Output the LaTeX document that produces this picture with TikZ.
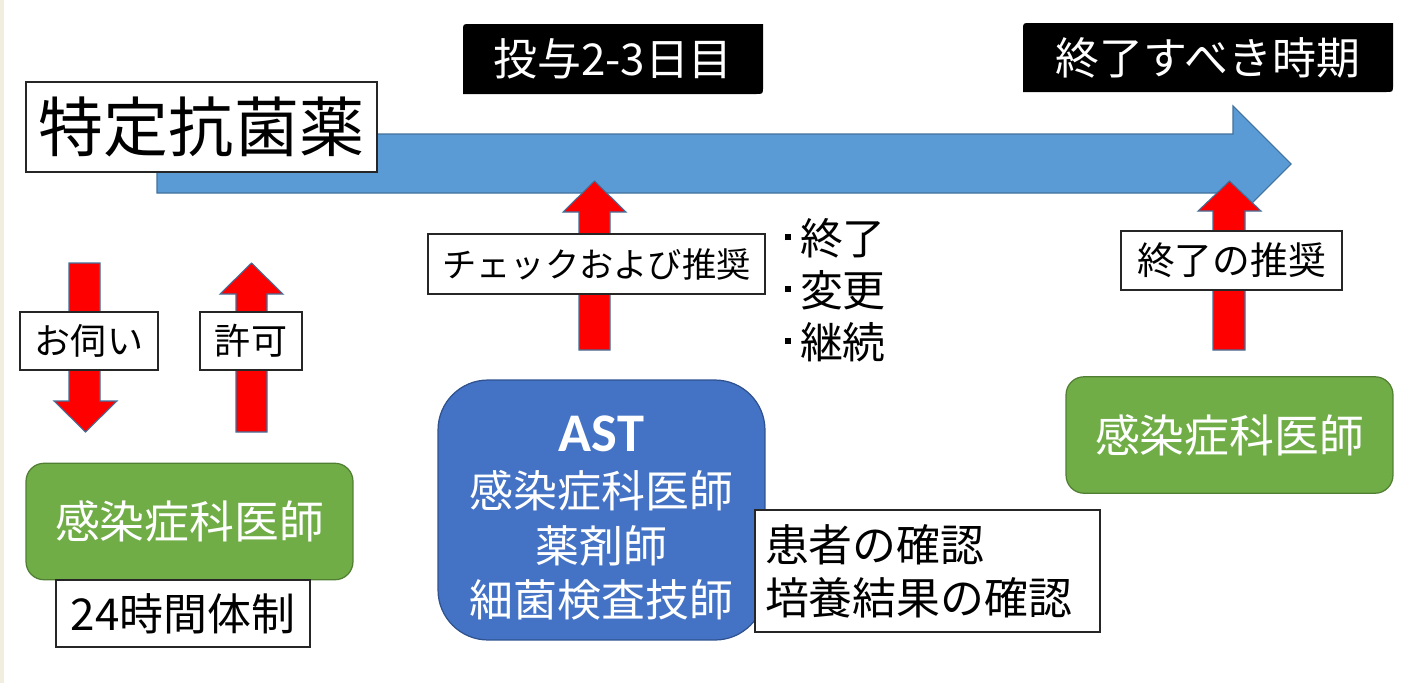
\documentclass[tikz,border=0pt]{standalone}
\usepackage{fontspec}
\setmainfont{Noto Sans CJK JP}
\newfontfamily\astfont{Carlito}
\definecolor{arrowblue}{HTML}{5B9BD5}
\definecolor{arrowedge}{HTML}{41719C}
\definecolor{grn}{HTML}{70AD47}
\definecolor{grnedge}{HTML}{507E32}
\definecolor{astblue}{HTML}{4472C4}
\definecolor{astedge}{HTML}{2F528F}
\definecolor{strip}{HTML}{F2EEDF}
\newcommand\fsz[2]{\fontsize{#1pt}{#2pt}\selectfont}
\newcommand\sqbul{\raisebox{8pt}{\rule{3.4pt}{3.4pt}}\hspace{5pt}}
\tikzset{
  px/.style={x=0.02cm,y=-0.02cm},
  bigarrow/.style={fill=arrowblue,draw=arrowedge,line width=0.6pt},
  redarrow/.style={fill=red,draw=arrowedge,line width=0.6pt},
  blackbg/.style={fill=black},
  blacktext/.style={text=white,font=\fsz{25}{30},inner sep=0pt},
  labelbox/.style={draw=black!85,line width=0.9pt,fill=white,inner sep=0pt},
  greenbox/.style={fill=grn,draw=grnedge,line width=0.7pt,rounded corners=0.36cm,
    text=white,font=\fsz{25.5}{30},inner sep=0pt,minimum width=6.54cm,minimum height=2.33cm},
  astbox/.style={fill=astblue,draw=astedge,line width=0.7pt,rounded corners=1cm,
    inner sep=0pt,minimum width=6.54cm,minimum height=5.2cm},
  asttext/.style={text=white,font=\fsz{25}{31},align=center,inner sep=0pt},
}
\begin{document}
\begin{tikzpicture}[px]
\useasboundingbox (0,0) rectangle (1412,683);
\fill[white] (0,0) rectangle (1412,683);
\fill[strip] (0,0) rectangle (4,683);

% main timeline arrow
\draw[bigarrow] (157,134) -- (1233,134) -- (1233,106) -- (1291,164) -- (1233,222) -- (1233,193) -- (157,193) -- cycle;

% title
\node[labelbox,font=\fsz{37}{40},minimum width=7.02cm,minimum height=1.8cm] (title) at (201.5,127) {特定抗菌薬};

% black headers
\fill[blackbg] (463,94) -- (463,31) .. controls (463,24) .. (470,24) -- (763,24) -- (763,87) .. controls (763,94) .. (756,94) -- cycle;
\node[blacktext] (day) at (613,59) {投与2-3日目};
\fill[blackbg] (1023,92) -- (1023,30) .. controls (1023,23) .. (1030,23) -- (1393,23) -- (1393,85) .. controls (1393,92) .. (1386,92) -- cycle;
\node[blacktext] (endtime) at (1208,57.5) {終了すべき時期};

% red arrows
\draw[redarrow] (579,350) -- (579,212) -- (563,212) -- (594.5,181) -- (626,212) -- (610,212) -- (610,350) -- cycle;
\draw[redarrow] (1213,350) -- (1213,211) -- (1198,211) -- (1229.5,181) -- (1261,211) -- (1245,211) -- (1245,350) -- cycle;
\draw[redarrow] (69,263) -- (100,263) -- (100,401) -- (117,401) -- (85.5,432) -- (54,401) -- (69,401) -- cycle;
\draw[redarrow] (236,432) -- (236,294) -- (220,294) -- (251.5,263) -- (283,294) -- (267,294) -- (267,432) -- cycle;

% labels on arrows
\node[labelbox,font=\fsz{19.5}{24},minimum width=6.74cm,minimum height=1.2cm] (check) at (596.5,264) {チェックおよび推奨};
\node[labelbox,font=\fsz{21.5}{26},minimum width=4.42cm,minimum height=1.18cm] (endrec) at (1231.5,260.5) {終了の推奨};
\node[labelbox,font=\fsz{20.5}{24},minimum width=2.76cm,minimum height=1.16cm] (ask) at (89,341) {お伺い};
\node[labelbox,font=\fsz{20.5}{24},minimum width=2.04cm,minimum height=1.16cm] (permit) at (251,341) {許可};

% options list
\node[anchor=west,align=left,font=\fsz{24.4}{29.5},inner sep=0pt] (opts) at (785,290) {\sqbul 終了\\\sqbul 変更\\\sqbul 継続};

% green boxes
\node[greenbox] (idleft) at (189.5,521.5) {感染症科医師};
\node[labelbox,font=\fsz{25}{30},minimum width=5.08cm,minimum height=1.34cm] (h24) at (183,613.5) {24時間体制};
\node[greenbox] (idright) at (1229.5,435) {感染症科医師};

% AST
\node[astbox] (ast) at (601.5,510) {};
\node[asttext] (astt) at ([yshift=-0.16cm]ast.center) {{\astfont\bfseries\fsz{31}{34}AST}\\[1pt]感染症科医師\\薬剤師\\細菌検査技師};
\node[labelbox,font=\fsz{25}{30},align=left,text width=6.5cm,inner xsep=0.2cm,minimum height=2.44cm] (check2) at (927.5,571) {患者の確認\\培養結果の確認};
\end{tikzpicture}
\end{document}
